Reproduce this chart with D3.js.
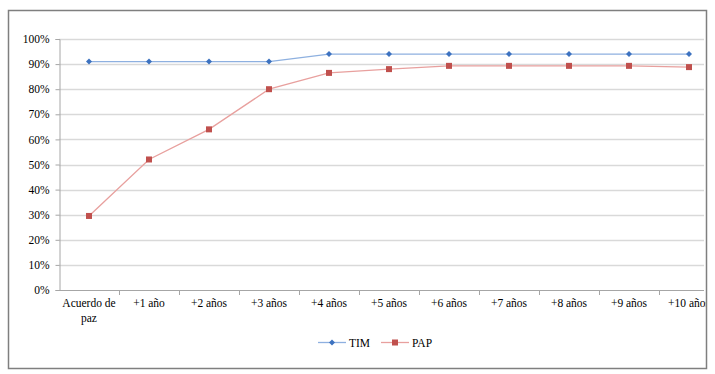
<!DOCTYPE html>
<html>
<head>
<meta charset="utf-8">
<script src="https://cdn.jsdelivr.net/npm/d3@7"></script>
<style>
  body { margin: 0; background: #fff; }
  svg text { font-family: "Liberation Serif", "Times New Roman", serif; }
</style>
</head>
<body>
<div id="chart"></div>
<script>
var categories = ["Acuerdo de paz", "+1 año", "+2 años", "+3 años", "+4 años", "+5 años",
                  "+6 años", "+7 años", "+8 años", "+9 años", "+10 años"];
var timValues = [0.91, 0.91, 0.91, 0.91, 0.94, 0.94, 0.94, 0.94, 0.94, 0.94, 0.94];
var papValues = [0.295, 0.52, 0.64, 0.80, 0.865, 0.88, 0.893, 0.893, 0.893, 0.893, 0.888];
var yTicks = [0, 0.1, 0.2, 0.3, 0.4, 0.5, 0.6, 0.7, 0.8, 0.9, 1.0];

var width = 715, height = 374;

var svg = d3.select("#chart").append("svg")
    .attr("width", width)
    .attr("height", height);

// clip to the outer frame and to the plot
svg.append("clipPath").attr("id", "frameClip")
  .append("rect").attr("x", 8).attr("y", 10).attr("width", 698).attr("height", 359);

svg.append("clipPath").attr("id", "plotClip")
  .append("rect").attr("x", 40).attr("y", 20).attr("width", 664).attr("height", 300);

var root = svg.append("g").attr("clip-path", "url(#frameClip)");

var x = d3.scaleBand().domain(categories).range([59, 719]);
var y = d3.scaleLinear().domain([0, 1]).range([290, 39]);

var plot = root.append("g").attr("clip-path", "url(#plotClip)");

// gridlines
plot.selectAll(".grid")
  .data(yTicks.filter(function(d) { return d > 0; }))
  .enter().append("line")
  .attr("x1", 59).attr("x2", 719)
  .attr("y1", function(d) { return Math.round(y(d)) + 0.5; })
  .attr("y2", function(d) { return Math.round(y(d)) + 0.5; })
  .style("stroke", "#d9d9d9")
  .style("stroke-width", 1.5);

// y axis
var yAxis = d3.axisLeft(y).tickValues(yTicks)
    .tickFormat(d3.format(".0%")).tickSize(4).tickPadding(6);
var yg = root.append("g").attr("transform", "translate(59.5,0)").call(yAxis);
yg.attr("font-family", null);
yg.select(".domain").style("stroke", "#a6a6a6");
yg.selectAll(".tick line").style("stroke", "#a6a6a6");
yg.selectAll(".tick text").style("font-size", "11.5px").style("fill", "#000");

// x axis line + ticks between categories
var xg = plot.append("g");
xg.append("line")
  .attr("x1", 59).attr("x2", 719)
  .attr("y1", 290.5).attr("y2", 290.5)
  .style("stroke", "#a6a6a6").style("stroke-width", 1.2);
xg.selectAll(".xt").data(categories).enter().append("line")
  .attr("x1", function(d) { return x(d) + x.bandwidth() + 0.5; })
  .attr("x2", function(d) { return x(d) + x.bandwidth() + 0.5; })
  .attr("y1", 290).attr("y2", 295)
  .style("stroke", "#a6a6a6");

// x labels
var xl = root.selectAll(".xl").data(categories).enter().append("text")
  .attr("x", function(d) { return x(d) + x.bandwidth() / 2; })
  .attr("y", 307)
  .attr("text-anchor", "middle")
  .style("font-size", "11.5px");
xl.each(function(d) {
  var t = d3.select(this);
  if (d === "Acuerdo de paz") {
    t.append("tspan").attr("x", t.attr("x")).text("Acuerdo de");
    t.append("tspan").attr("x", t.attr("x")).attr("dy", 15).text("paz");
  } else {
    t.text(d);
  }
});

var line = d3.line()
  .x(function(d, i) { return x(categories[i]) + x.bandwidth() / 2; })
  .y(function(d) { return y(d); });

var diamond = "M0,-3L3,0L0,3L-3,0Z";

// TIM
plot.append("path").datum(timValues).attr("d", line)
  .style("fill", "none").style("stroke", "#8eb0e0").style("stroke-width", 1.3);
plot.selectAll(".tim").data(timValues).enter().append("path")
  .attr("d", diamond)
  .attr("transform", function(d, i) {
    return "translate(" + (x(categories[i]) + x.bandwidth() / 2) + "," + y(d) + ")";
  })
  .style("fill", "#3d72c0");

// PAP
plot.append("path").datum(papValues).attr("d", line)
  .style("fill", "none").style("stroke", "#e8a09e").style("stroke-width", 1.3);
plot.selectAll(".pap").data(papValues).enter().append("rect")
  .attr("x", function(d, i) { return x(categories[i]) + x.bandwidth() / 2 - 3; })
  .attr("y", function(d) { return y(d) - 3; })
  .attr("width", 6).attr("height", 6)
  .style("fill", "#c0504d");

// legend
var legend = root.append("g");
legend.append("line").attr("x1", 318).attr("x2", 346).attr("y1", 342.5).attr("y2", 342.5)
  .style("stroke", "#8eb0e0").style("stroke-width", 1.3);
legend.append("path").attr("d", diamond)
  .attr("transform", "translate(332,342.5)").style("fill", "#3d72c0");
legend.append("text").attr("x", 349).attr("y", 346.5).style("font-size", "11.5px").text("TIM");
legend.append("line").attr("x1", 381).attr("x2", 409).attr("y1", 342.5).attr("y2", 342.5)
  .style("stroke", "#e8a09e").style("stroke-width", 1.3);
legend.append("rect").attr("x", 392).attr("y", 339.5).attr("width", 6).attr("height", 6)
  .style("fill", "#c0504d");
legend.append("text").attr("x", 412).attr("y", 346.5).style("font-size", "11.5px").text("PAP");

// frame
svg.append("rect").attr("x", 8.5).attr("y", 10.5).attr("width", 698).attr("height", 358)
  .style("fill", "none").style("stroke", "#7f7f7f").style("stroke-width", 1.5);
</script>
</body>
</html>
